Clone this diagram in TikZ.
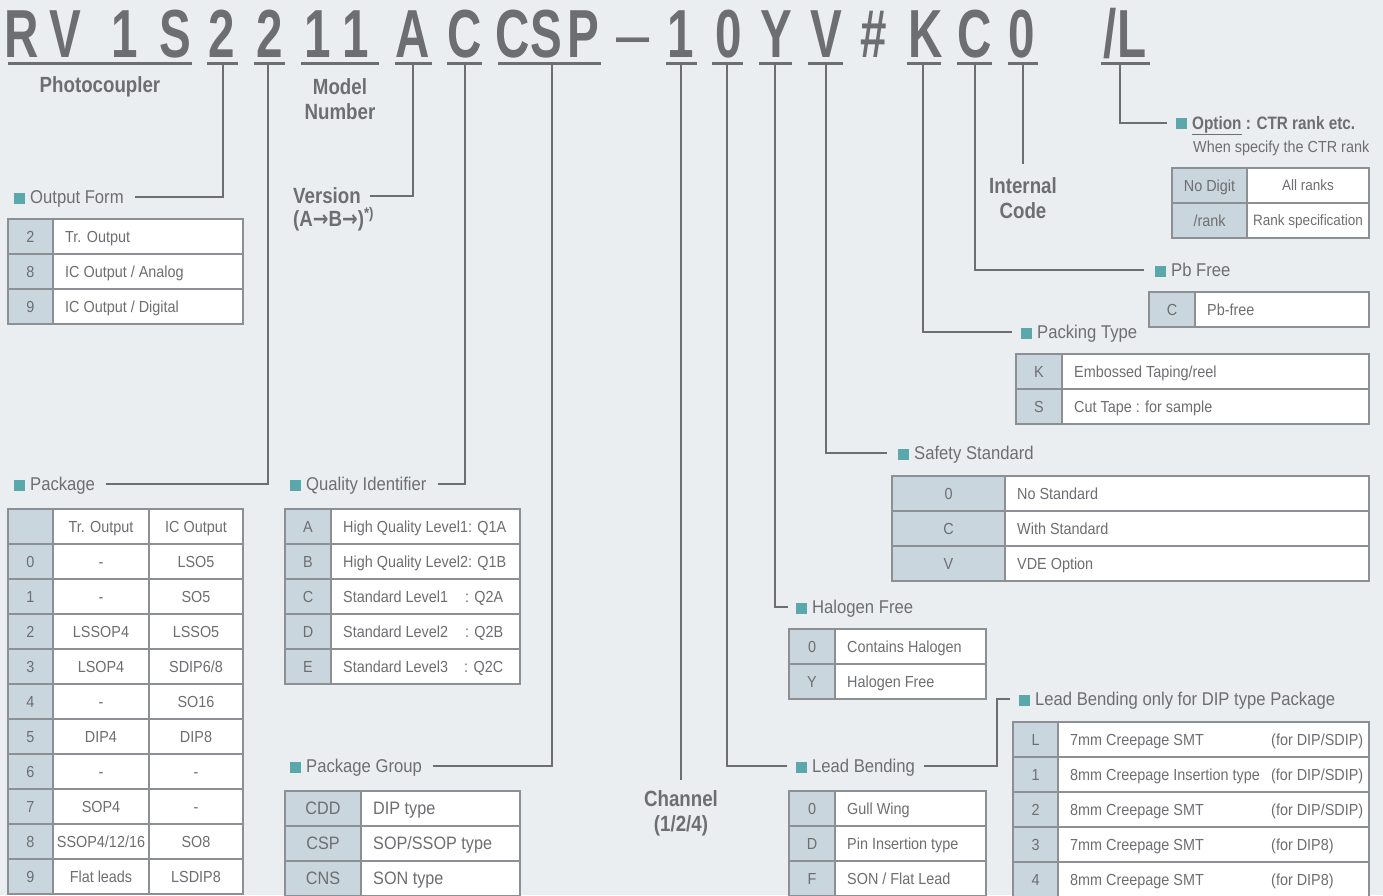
\documentclass[tikz,border=0pt]{standalone}
\usepackage{fontspec}
\setmainfont{Liberation Sans}[FakeStretch=0.9]
\newfontfamily\codefont{Liberation Sans}[FakeStretch=0.7]
\newfontfamily\titlefont{Liberation Sans}[FakeStretch=0.85]
\newfontfamily\arrowfont{DejaVu Sans}[FakeStretch=0.85]
\usetikzlibrary{positioning}

\definecolor{ink}{RGB}{109,110,113}
\definecolor{bg}{RGB}{235,238,241}
\definecolor{keyfill}{RGB}{201,214,222}
\definecolor{sqcol}{RGB}{90,168,172}
\definecolor{cellline}{RGB}{140,143,147}

\tikzset{
  code/.style={font=\codefont\bfseries\fontsize{68}{68}\selectfont, text=ink, anchor=base, inner sep=0pt},
  uline/.style={draw=ink, line width=3pt},
  lead/.style={draw=ink, line width=2pt},
  title/.style={font=\titlefont\bfseries\fontsize{22}{25}\selectfont, text=ink, inner sep=0pt, align=center},
  head/.style={font=\fontsize{18.5}{20}\selectfont, text=ink, inner sep=0pt, anchor=west, text height=13.2pt, text depth=0pt},
  cell/.style={draw=cellline, line width=1.3pt},
  tabtxt/.style={font=\fontsize{16}{18}\selectfont, text=ink, inner sep=0pt, text height=11.5pt, text depth=0pt}
}
\newcommand{\sq}{\textcolor{sqcol}{\rule{11pt}{11pt}}\hspace{5pt}}
\newcommand{\arr}{{\arrowfont\bfseries →}}
\newcommand{\tabrow}[7]{%
  \fill[keyfill] (#2,#5) rectangle (#3,#5+35);
  \fill[white] (#3,#5) rectangle (#4,#5+35);
  \draw[cell] (#2,#5) rectangle (#4,#5+35) (#3,#5) -- (#3,#5+35);
  \node[tabtxt] (#1k) at ({(#2+#3)/2},#5+17.5) {#6};
  \node[tabtxt,anchor=west] (#1v) at (#3+12,#5+17.5) {#7};
}

\begin{document}
\begin{tikzpicture}[x=1pt,y=-1pt]
  \fill[bg] (0,0) rectangle (1383,895);
  \useasboundingbox (0,0) rectangle (1383,895);

  % part number
  \foreach \x/\c [count=\n] in {22/R,65/V,125/1,175/S,222/2,270/2,318/1,356/1,413/A,465/C,
      513/C,546/S,583/P,681/1,729/0,776/Y,826/V,874/\#,926/K,975/C,1022/0}
    \node[code] (code\n) at (\x,57) {\c};
  \node[code,font=\codefont\fontsize{68}{68}\selectfont,xscale=1.25] (dash) at (633,57) {\textendash};
  \node[code] (codeL) at (1125,57) {/L};
  \foreach \a/\b in {8/192,207/238,254/285,301/379,395/432,447/482,498/601,666/697,
      712/743,759/792,808/843,907/941,957/992,1008/1038,1101/1150}
    \draw[uline] (\a,63) -- (\b,63);

  \coordinate (s2a) at (223,63);
  \coordinate (s2b) at (268,63);
  \coordinate (sA) at (413,63);
  \coordinate (sC) at (465,63);
  \coordinate (sCSP) at (552,63);
  \coordinate (s1) at (681,63);
  \coordinate (s0) at (727,63);
  \coordinate (sY) at (775,63);
  \coordinate (sV) at (826,63);
  \coordinate (sK) at (923,63);
  \coordinate (sC2) at (975,63);
  \coordinate (s0b) at (1023,63);
  \coordinate (sL) at (1120,63);

  % titles
  \node[title] (photo) at (100,87) {Photocoupler};
  \node[title] (model) at (340,99) {Model\\Number};
  \node[title,anchor=west] (version) at (293,196) {Version};
  \node[title,anchor=west] (verarr) at (293,219) {(A\arr B\arr)\textsuperscript{*)}};
  \node[title] (chan) at (681,813) {Channel\\(1/2/4)};
  \node[title] (intcode) at (1023,198) {Internal\\Code};

  % headers
  \node[head] (outform) at (14,197) {\sq Output Form};
  \node[head] (pkg) at (14,484) {\sq Package};
  \node[head] (qual) at (290,484) {\sq Quality Identifier};
  \node[head] (pgroup) at (290,766) {\sq Package Group};
  \node[head] (halo) at (796,607) {\sq Halogen Free};
  \node[head] (leadb) at (796,766) {\sq Lead Bending};
  \node[head] (leaddip) at (1019,699) {\sq Lead Bending only for DIP type Package};
  \node[head] (safety) at (898,453) {\sq Safety Standard};
  \node[head] (packing) at (1021,332) {\sq Packing Type};
  \node[head] (pbfree) at (1155,270) {\sq Pb Free};
  \node[head,font=\titlefont\bfseries\fontsize{18}{20}\selectfont,text height=12.9pt] (option) at (1176,123)
    {\sq\underline{Option} : CTR rank etc.};
  \node[head,font=\fontsize{16}{18}\selectfont,text height=11.5pt] (when) at (1193,147) {When specify the CTR rank};

  % connectors
  \draw[lead] ([xshift=11pt]outform.east) -| (s2a);
  \draw[lead] ([xshift=11pt]pkg.east) -| (s2b);
  \draw[lead] ([xshift=9pt]version.east) -| (sA);
  \draw[lead] ([xshift=11pt]qual.east) -| (sC);
  \draw[lead] ([xshift=11pt]pgroup.east) -| (sCSP);
  \draw[lead] (s1) -- ([yshift=10pt]chan.north);
  \draw[lead] (s0) |- ([xshift=-9pt]leadb.west);
  \draw[lead] ([xshift=9pt]leadb.east) -| ([xshift=-22pt]leaddip.west) -- ([xshift=-9pt]leaddip.west);
  \draw[lead] (sY) |- ([xshift=-8pt]halo.west);
  \draw[lead] (sV) |- ([xshift=-11pt]safety.west);
  \draw[lead] (sK) |- ([xshift=-9pt]packing.west);
  \draw[lead] (sC2) |- ([xshift=-11pt]pbfree.west);
  \draw[lead] (s0b) -- ([yshift=13pt]intcode.north);
  \draw[lead] (sL) |- ([xshift=-9pt]option.west);

  % output form
  \tabrow{of2}{8}{53}{243}{219}{2}{Tr. Output}
  \tabrow{of8}{8}{53}{243}{254}{8}{IC Output / Analog}
  \tabrow{of9}{8}{53}{243}{289}{9}{IC Output / Digital}

  % package
  \fill[keyfill] (8,509) rectangle (53,894);
  \fill[white] (53,509) rectangle (243,894);
  \foreach \r in {0,...,10}
    \draw[cell] (8,509+35*\r) rectangle (243,544+35*\r);
  \draw[cell] (53,509) -- (53,894) (149,509) -- (149,894);
  \node[tabtxt] (ptr) at (101,526.5) {Tr. Output};
  \node[tabtxt] (pic) at (196,526.5) {IC Output};
  \foreach \k/\p/\q in {0/-/LSO5,1/-/SO5,2/LSSOP4/LSSO5,3/LSOP4/{SDIP6/8},4/-/SO16,
      5/DIP4/DIP8,6/-/-,7/SOP4/-,8/{SSOP4/12/16}/SO8,9/Flat leads/LSDIP8}
  {
    \node[tabtxt] (pk\k) at (30.5,561.5+35*\k) {\k};
    \node[tabtxt] (pt\k) at (101,561.5+35*\k) {\p};
    \node[tabtxt] (pi\k) at (196,561.5+35*\k) {\q};
  }

  % quality identifier
  \tabrow{qa}{285}{331}{520}{509}{A}{High Quality Level1: Q1A}
  \tabrow{qb}{285}{331}{520}{544}{B}{High Quality Level2: Q1B}
  \tabrow{qc}{285}{331}{520}{579}{C}{\makebox[160pt][l]{Standard Level1\hfill: Q2A}}
  \tabrow{qd}{285}{331}{520}{614}{D}{\makebox[160pt][l]{Standard Level2\hfill: Q2B}}
  \tabrow{qe}{285}{331}{520}{649}{E}{\makebox[160pt][l]{Standard Level3\hfill: Q2C}}

  % package group
  \begin{scope}[tabtxt/.style={font=\fontsize{18}{20}\selectfont, text=ink, inner sep=0pt, text height=12.9pt, text depth=0pt}]
    \tabrow{gd}{285}{361}{520}{791}{CDD}{DIP type}
    \tabrow{gc}{285}{361}{520}{826}{CSP}{SOP/SSOP type}
    \tabrow{gn}{285}{361}{520}{861}{CNS}{SON type}
  \end{scope}

  % halogen free
  \tabrow{h0}{789}{835}{986}{629}{0}{Contains Halogen}
  \tabrow{hy}{789}{835}{986}{664}{Y}{Halogen Free}

  % lead bending
  \tabrow{b0}{789}{835}{986}{791}{0}{Gull Wing}
  \tabrow{bd}{789}{835}{986}{826}{D}{Pin Insertion type}
  \tabrow{bf}{789}{835}{986}{861}{F}{SON / Flat Lead}

  % lead bending dip
  \tabrow{dl}{1013}{1058}{1369}{722}{L}{\makebox[201pt][l]{7mm Creepage SMT}(for DIP/SDIP)}
  \tabrow{d1}{1013}{1058}{1369}{757}{1}{\makebox[201pt][l]{8mm Creepage Insertion type}(for DIP/SDIP)}
  \tabrow{d2}{1013}{1058}{1369}{792}{2}{\makebox[201pt][l]{8mm Creepage SMT}(for DIP/SDIP)}
  \tabrow{d3}{1013}{1058}{1369}{827}{3}{\makebox[201pt][l]{7mm Creepage SMT}(for DIP8)}
  \tabrow{d4}{1013}{1058}{1369}{862}{4}{\makebox[201pt][l]{8mm Creepage SMT}(for DIP8)}

  % safety standard
  \tabrow{sf0}{892}{1005}{1369}{476}{0}{No Standard}
  \tabrow{sfc}{892}{1005}{1369}{511}{C}{With Standard}
  \tabrow{sfv}{892}{1005}{1369}{546}{V}{VDE Option}

  % packing type
  \tabrow{pk}{1016}{1062}{1369}{354}{K}{Embossed Taping/reel}
  \tabrow{ps}{1016}{1062}{1369}{389}{S}{Cut Tape : for sample}

  % pb free
  \tabrow{pb}{1149}{1195}{1369}{292}{C}{Pb-free}

  % option
  \fill[keyfill] (1172,168) rectangle (1247,238);
  \fill[white] (1247,168) rectangle (1369,238);
  \draw[cell] (1172,168) rectangle (1369,238) (1172,203) -- (1369,203) (1247,168) -- (1247,238);
  \node[tabtxt] (onk) at (1209.5,185.5) {No Digit};
  \node[tabtxt] (ork) at (1209.5,220.5) {/rank};
  \node[tabtxt,font=\fontsize{15}{17}\selectfont,text height=10.7pt] (onv) at (1308,185.5) {All ranks};
  \node[tabtxt,font=\fontsize{15}{17}\selectfont,text height=10.7pt] (orv) at (1308,220.5) {Rank specification};
\end{tikzpicture}
\end{document}
